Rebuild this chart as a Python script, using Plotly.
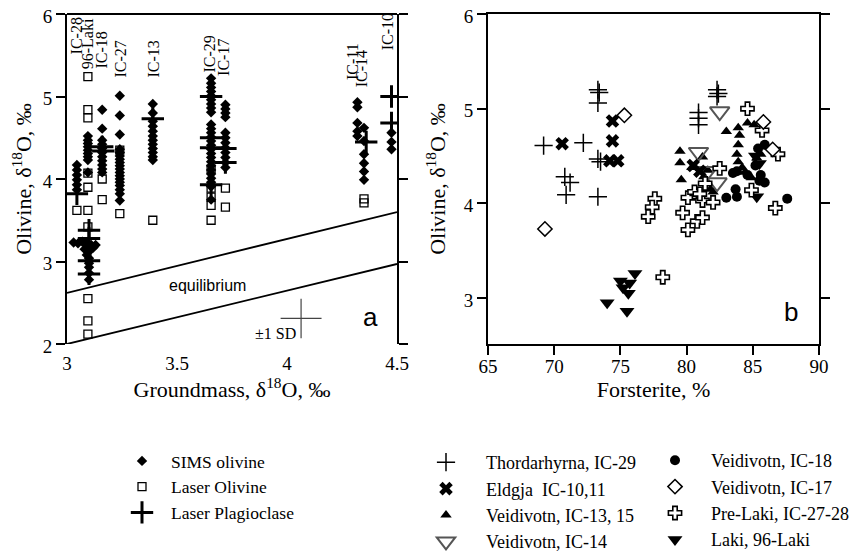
import plotly.graph_objects as go

W, H = 860, 543          # figure size (page adds an 8px body margin)
OFF = 8


def fx(p):
    return (p - OFF) / W


def fy(p):
    return 1 - (p - OFF) / H


# ---------------- Panel a data ----------------
sims_x = ([3.045] * 6 + [3.095] * 9 + [3.16] * 11 + [3.24] * 18 + [3.39] * 12 +
          [3.655] * 26 + [3.72] * 12 + [4.32] * 5 + [4.35] * 6 + [4.475] * 3 +
          [3.03, 3.05, 3.07, 3.09, 3.11, 3.13, 3.08, 3.10, 3.12, 3.09, 3.10, 3.10, 3.10, 3.10, 3.10])
sims_y = ([4.17, 4.11, 4.05, 3.99, 3.93, 3.87] +
          [4.52, 4.47, 4.43, 4.39, 4.35, 4.31, 4.27, 4.23, 4.08] +
          [4.84, 4.61, 4.47, 4.42, 4.37, 4.32, 4.27, 4.22, 4.17, 4.12, 4.08] +
          [5.01, 4.77, 4.54, 4.36, 4.32, 4.28, 4.24, 4.20, 4.16, 4.12, 4.08, 4.04, 4.00, 3.96, 3.92, 3.87, 3.82, 3.74] +
          [4.91, 4.80, 4.70, 4.64, 4.58, 4.52, 4.47, 4.42, 4.37, 4.32, 4.27, 4.23] +
          [5.22, 5.16, 5.11, 5.06, 5.01, 4.96, 4.91, 4.86, 4.81, 4.66, 4.61, 4.56, 4.51, 4.46, 4.41, 4.36,
           4.31, 4.26, 4.21, 4.16, 4.11, 4.06, 4.01, 3.96, 3.91, 3.75] +
          [4.90, 4.85, 4.80, 4.75, 4.56, 4.50, 4.44, 4.38, 4.32, 4.26, 4.20, 4.14] +
          [4.93, 4.87, 4.68, 4.58, 4.52] +
          [4.62, 4.46, 4.30, 4.19, 4.09, 3.99] +
          [4.56, 4.45, 4.36] +
          [3.23, 3.22, 3.24, 3.21, 3.20, 3.20, 3.15, 3.12, 3.17, 3.08, 3.04, 2.98, 2.93, 2.86, 2.78])

laser_ol_x = [3.095, 3.095, 3.095, 3.095, 3.095, 3.045, 3.095, 3.16, 3.16, 3.24, 3.24, 3.39,
              3.655, 3.655, 3.655, 3.655, 3.655, 3.72, 3.72, 4.35, 4.35, 3.095, 3.095, 3.095, 3.095]
laser_ol_y = [5.24, 4.84, 4.74, 4.07, 3.90, 3.62, 3.62, 4.00, 3.75, 3.58, 4.35, 3.50,
              3.89, 3.78, 3.68, 3.50, 4.12, 3.89, 3.66, 3.76, 3.71, 3.42, 2.55, 2.28, 2.12]

plag_x = [3.045, 3.16, 3.165, 3.39, 3.655, 3.655, 3.655, 3.655, 3.72, 3.72, 4.36, 4.475, 4.475,
          3.10, 3.10, 3.10, 3.10]
plag_y = [3.82, 4.39, 4.34, 4.73, 5.00, 4.50, 4.38, 3.93, 4.37, 4.20, 4.45, 5.00, 4.68,
          3.38, 3.28, 3.01, 2.85]

eq_x = [3.0, 4.5]
eq_upper = [2.62, 3.60]
eq_lower = [2.00, 2.97]

sd_x, sd_y = [4.064], [2.31]
sd_ex, sd_ey = [0.093], [0.24]

col_labels = ["IC-28", "96-Laki", "IC-18", "IC-27", "IC-13", "IC-29", "IC-17", "IC-11", "IC-14", "IC-10"]
col_label_x = [3.041, 3.091, 3.159, 3.241, 3.391, 3.650, 3.714, 4.295, 4.340, 4.455]
col_label_ybot = [5.48, 5.30, 5.32, 5.20, 5.20, 5.26, 5.22, 5.18, 5.09, 5.53]

# ---------------- Panel b data ----------------
thord_x = [69.2, 72.2, 70.8, 71.2, 70.9, 73.3, 73.4, 73.3, 73.3, 73.5, 73.3, 82.3, 82.4, 82.3, 80.9, 80.9, 80.9]
thord_y = [4.61, 4.64, 4.28, 4.22, 4.09, 5.20, 5.17, 5.06, 4.47, 4.44, 4.07, 5.20, 5.16, 5.13, 4.96, 4.90, 4.83]

eld_x = [70.6, 74.4, 74.4, 74.2, 74.8, 80.5, 81.0]
eld_y = [4.63, 4.87, 4.66, 4.45, 4.45, 4.40, 4.34]

v1315_x = [79.5, 79.5, 79.6, 80.4, 81.2, 81.6, 81.3, 81.8, 82.0, 83.0, 83.9, 84.0, 83.9, 83.8, 83.9,
           84.6, 85.1, 84.4, 84.9, 85.3, 85.6, 84.2]
v1315_y = [4.55, 4.43, 4.25, 4.38, 4.49, 4.35, 4.28, 4.15, 4.12, 4.76, 4.80, 4.72, 4.62, 4.52, 4.44,
           4.85, 4.83, 4.33, 4.27, 4.48, 4.52, 4.38]

v14_x = [82.5, 80.9, 82.3, 81.6]
v14_y = [4.97, 4.54, 4.22, 4.34]

v18_x = [85.4, 85.9, 85.6, 85.5, 85.9, 83.8, 83.5, 83.7, 83.0, 83.8, 87.6, 85.2, 84.6]
v18_y = [4.58, 4.62, 4.30, 4.24, 4.22, 4.34, 4.32, 4.15, 4.06, 4.07, 4.05, 4.40, 4.30]

v17_x = [69.3, 75.3, 85.8, 86.5]
v17_y = [3.73, 4.93, 4.86, 4.57]

prelaki_x = [77.6, 77.4, 77.1, 78.2, 79.7, 80.1, 80.8, 81.2, 80.1, 80.6, 81.2, 82.0, 81.4, 82.5,
             84.6, 85.7, 86.9, 84.9, 86.7, 81.0]
prelaki_y = [4.05, 3.96, 3.86, 3.22, 3.90, 3.72, 3.81, 3.85, 4.06, 4.12, 4.03, 4.01, 4.21, 4.37,
             5.00, 4.77, 4.52, 4.14, 3.95, 4.10]

laki_x = [74.0, 75.5, 75.2, 75.7, 76.1, 75.0, 75.6, 85.3, 85.2, 85.5]
laki_y = [2.95, 2.86, 3.11, 3.16, 3.26, 3.18, 3.05, 4.07, 4.50, 4.42]

SERIF = "Liberation Serif, Times New Roman, serif"
SANS = "Liberation Sans, Arial, sans-serif"

fig = go.Figure()

# ---- panel a traces ----
fig.add_trace(go.Scatter(x=sims_x, y=sims_y, mode="markers", name="SIMS olivine",
                         marker=dict(symbol="diamond", size=8, color="black", line=dict(width=0)),
                         legend="legend", legendgroup="g1", legendrank=1, xaxis="x", yaxis="y"))
fig.add_trace(go.Scatter(x=laser_ol_x, y=laser_ol_y, mode="markers", name="Laser Olivine",
                         marker=dict(symbol="square-open", size=8, color="black", line=dict(width=1.3)),
                         legend="legend", legendgroup="g2", legendrank=2, xaxis="x", yaxis="y"))
fig.add_trace(go.Scatter(x=plag_x, y=plag_y, mode="markers", name="Laser Plagioclase",
                         marker=dict(symbol="cross-thin", size=16, color="black", line=dict(width=3, color="black")),
                         legend="legend", legendgroup="g3", legendrank=3, xaxis="x", yaxis="y"))
for yy in (eq_upper, eq_lower):
    fig.add_trace(go.Scatter(x=eq_x, y=yy, mode="lines", line=dict(color="black", width=1.8),
                             showlegend=False, xaxis="x", yaxis="y", hoverinfo="skip"))
fig.add_trace(go.Scatter(x=sd_x, y=sd_y, mode="markers", marker=dict(size=1, color="rgba(0,0,0,0)"),
                         error_x=dict(type="data", array=sd_ex, width=0, thickness=1.2, color="#444"),
                         error_y=dict(type="data", array=sd_ey, width=0, thickness=1.2, color="#444"),
                         showlegend=False, xaxis="x", yaxis="y", hoverinfo="skip"))

# ---- panel b traces ----
fig.add_trace(go.Scatter(x=v1315_x, y=v1315_y, mode="markers", name="Veidivotn, IC-13, 15",
                         marker=dict(symbol="triangle-up", size=10, color="black"),
                         legend="legend2", legendgroup="h3", legendrank=3, xaxis="x2", yaxis="y2"))
fig.add_trace(go.Scatter(x=v18_x, y=v18_y, mode="markers", name="Veidivotn, IC-18",
                         marker=dict(symbol="circle", size=10, color="black"),
                         legend="legend3", legendgroup="k1", legendrank=1, xaxis="x2", yaxis="y2"))
fig.add_trace(go.Scatter(x=laki_x, y=laki_y, mode="markers", name="Laki, 96-Laki",
                         marker=dict(symbol="triangle-down", size=13, color="black"),
                         legend="legend3", legendgroup="k4", legendrank=4, xaxis="x2", yaxis="y2"))
fig.add_trace(go.Scatter(x=v14_x, y=v14_y, mode="markers", name="Veidivotn, IC-14",
                         marker=dict(symbol="triangle-down-open", size=17, color="#555555", line=dict(width=2)),
                         legend="legend2", legendgroup="h4", legendrank=4, xaxis="x2", yaxis="y2"))
fig.add_trace(go.Scatter(x=thord_x, y=thord_y, mode="markers", name="Thordarhyrna, IC-29",
                         marker=dict(symbol="cross-thin", size=13, color="black", line=dict(width=1.5, color="black")),
                         legend="legend2", legendgroup="h1", legendrank=1, xaxis="x2", yaxis="y2"))
fig.add_trace(go.Scatter(x=eld_x, y=eld_y, mode="markers", name="Eldgja  IC-10,11",
                         marker=dict(symbol="x", size=12, color="black", line=dict(width=0)),
                         legend="legend2", legendgroup="h2", legendrank=2, xaxis="x2", yaxis="y2"))
fig.add_trace(go.Scatter(x=prelaki_x, y=prelaki_y, mode="markers", name="Pre-Laki, IC-27-28",
                         marker=dict(symbol="cross", size=11, color="white", line=dict(width=1.6, color="black")),
                         legend="legend3", legendgroup="k3", legendrank=3, xaxis="x2", yaxis="y2"))
fig.add_trace(go.Scatter(x=v17_x, y=v17_y, mode="markers", name="Veidivotn, IC-17",
                         marker=dict(symbol="diamond", size=11, color="white", line=dict(width=1.5, color="black")),
                         legend="legend3", legendgroup="k2", legendrank=2, xaxis="x2", yaxis="y2"))

# ---- annotations ----
ann = []
for t, xx, yb in zip(col_labels, col_label_x, col_label_ybot):
    ann.append(dict(text=t, x=xx, y=yb, xref="x", yref="y", textangle=-90, showarrow=False,
                    xanchor="center", yanchor="bottom", font=dict(family=SERIF, size=16, color="black")))
ann.append(dict(text="equilibrium", x=3.64, y=2.71, xref="x", yref="y", showarrow=False,
                font=dict(family=SANS, size=16, color="black")))
ann.append(dict(text="±1 SD", x=4.05, y=2.13, xref="x", yref="y", showarrow=False, xanchor="right",
                font=dict(family=SERIF, size=16, color="black")))
ann.append(dict(text="a", x=4.38, y=2.33, xref="x", yref="y", showarrow=False,
                font=dict(family=SANS, size=26, color="black")))
ann.append(dict(text="b", x=87.9, y=2.85, xref="x2", yref="y2", showarrow=False,
                font=dict(family=SANS, size=26, color="black")))

axis_common = dict(showgrid=False, zeroline=False, color="black",
                   tickfont=dict(family=SERIF, size=19, color="black"))


def legend_common(size):
    return dict(font=dict(family=SERIF, size=size, color="black"), bgcolor="rgba(0,0,0,0)",
                borderwidth=0, xanchor="left", yanchor="top", traceorder="grouped",
                itemclick=False, itemdoubleclick=False)


fig.update_layout(
    width=W, height=H,
    margin=dict(l=0, r=0, t=0, b=0, autoexpand=False),
    paper_bgcolor="white", plot_bgcolor="white",
    font=dict(family=SERIF, color="black"),
    xaxis=dict(domain=[fx(67), fx(397)], range=[3, 4.5], tickvals=[3, 3.5, 4, 4.5],
               ticktext=["3", "3.5", "4", "4.5"], showline=False, ticks="", ticklabelstandoff=6,
               anchor="y",
               title=dict(text="Groundmass, δ<sup>18</sup>O, ‰", font=dict(family=SERIF, size=22), standoff=4),
               **axis_common),
    yaxis=dict(domain=[fy(344), fy(14)], range=[2, 6], tickvals=[2, 3, 4, 5, 6],
               showline=True, linewidth=2, linecolor="black", mirror="ticks", ticks="outside",
               ticklen=9, tickwidth=2, tickcolor="black", anchor="x", ticklabeloverflow="allow",
               ticklabelshift=2,
               title=dict(text="Olivine, δ<sup>18</sup>O, ‰", font=dict(family=SERIF, size=22), standoff=12),
               **axis_common),
    xaxis2=dict(domain=[fx(488), fx(819)], range=[65, 90], tickvals=[65, 70, 75, 80, 85, 90],
                showline=True, linewidth=2, linecolor="black", mirror=True, ticks="outside",
                ticklen=9, tickwidth=2, tickcolor="black", anchor="y2", ticklabelstandoff=-5,
                title=dict(text="Forsterite, %", font=dict(family=SERIF, size=22), standoff=4),
                **axis_common),
    yaxis2=dict(domain=[fy(344), fy(14)], range=[2.515, 6], tickvals=[3, 4, 5, 6],
                showline=True, linewidth=2, linecolor="black", mirror="ticks", ticks="outside",
                ticklen=9, tickwidth=2, tickcolor="black", anchor="x2", ticklabeloverflow="allow",
                ticklabelshift=2,
                title=dict(text="Olivine, δ<sup>18</sup>O, ‰", font=dict(family=SERIF, size=22), standoff=12),
                **axis_common),
    shapes=[dict(type="line", xref="x domain", yref="y domain", x0=0, x1=1, y0=1, y1=1,
                 line=dict(color="black", width=2))],
    annotations=ann,
    legend=dict(x=fx(113), y=fy(443), itemwidth=48, tracegroupgap=0, **legend_common(17.5)),
    legend2=dict(x=fx(406), y=fy(444), itemwidth=70, tracegroupgap=0, **legend_common(18)),
    legend3=dict(x=fx(639), y=fy(442), itemwidth=62, tracegroupgap=0, **legend_common(18)),
)

fig.write_html("out.html")
